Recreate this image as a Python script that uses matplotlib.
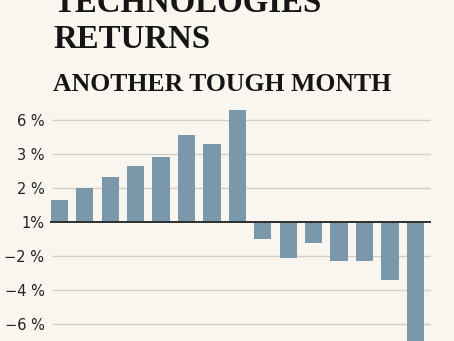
import matplotlib
matplotlib.use("Agg")
import matplotlib.pyplot as plt

# bar values, in grid steps (the axis labels are not evenly spaced)
months = list(range(15))
returns = [0.665, 1.0, 1.34, 1.665, 1.91, 2.58, 2.29, 3.29,
           -0.49, -1.06, -0.6, -1.14, -1.15, -1.69, -3.9]
tick_pos = [3, 2, 1, 0, -1, -2, -3]
tick_labels = ["6 %", "3 %", "2 %", "1%", "\u22122 %", "\u22124 %", "\u22126 %"]

bg = "#f9f5ef"
bar_col = "#7b98aa"

fig = plt.figure(figsize=(4.54, 3.41), dpi=100, facecolor=bg)
ax = fig.add_axes([0.110, 0.0, 0.8387, 0.697])
ax.set_facecolor(bg)

# grid lines
for t in tick_pos:
    if t != 0:
        ax.axhline(t, xmin=0.008, xmax=1, color="#d3cfc8", lw=1.0, zorder=1)

ax.bar(months, returns, width=0.68, color=bar_col, zorder=2)
ax.axhline(0, color="#2e2e2e", lw=1.4, zorder=3)

ax.set_xlim(-0.37, 14.6)
ax.set_ylim(-3.49, 3.5)
ax.set_xticks([])
ax.set_yticks(tick_pos)
ax.set_yticklabels(tick_labels, fontsize=10.5, color="#222222", family="DejaVu Sans")
ax.tick_params(axis="y", length=0, pad=4)
for s in ax.spines.values():
    s.set_visible(False)

# titles (top line is cut by the image edge, as in the original)
fig.text(0.117, 0.966, "TECHNOLOGIES", fontsize=23.7, fontweight="bold",
         family="Liberation Serif", color="#151515", va="baseline")
fig.text(0.117, 0.859, "RETURNS", fontsize=23.7, fontweight="bold",
         family="Liberation Serif", color="#151515", va="baseline")
fig.text(0.117, 0.734, "ANOTHER TOUGH MONTH", fontsize=18.5, fontweight="bold",
         family="Liberation Serif", color="#151515", va="baseline")

fig.savefig("out.png", dpi=100, facecolor=bg)
